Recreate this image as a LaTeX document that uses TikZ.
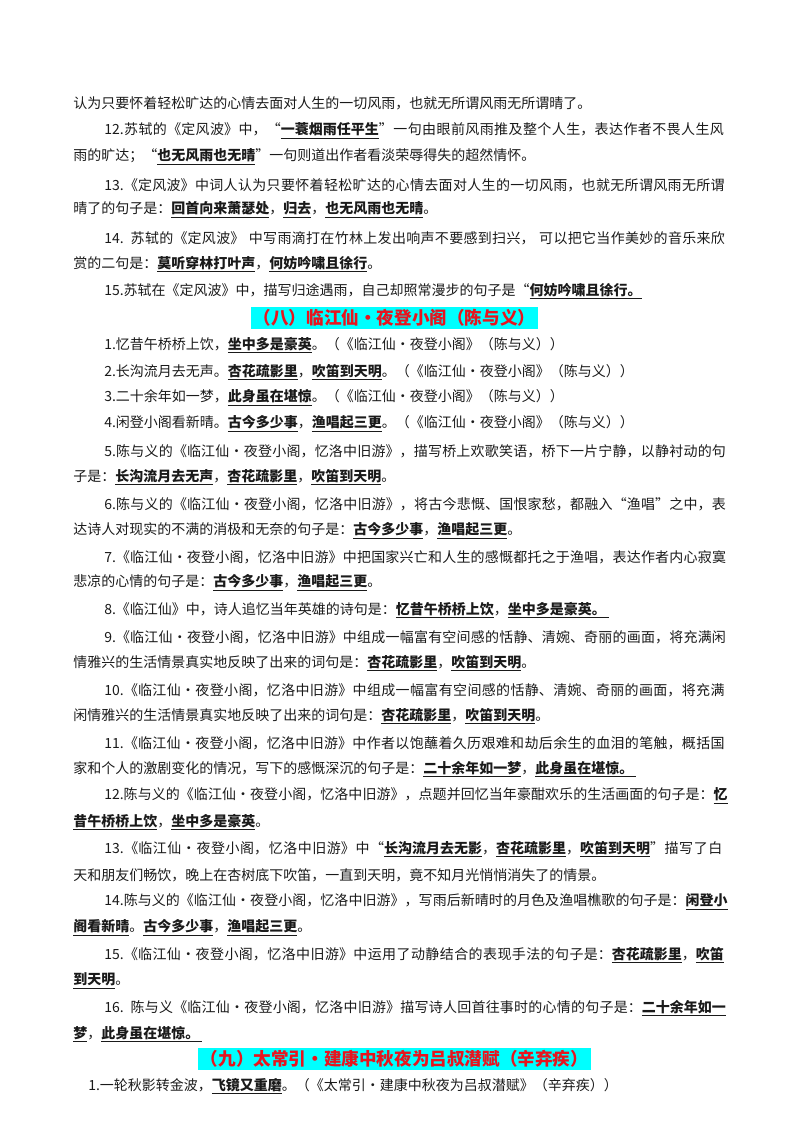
\documentclass[tikz,border=0pt]{standalone}
\usepackage{fontspec}
\setmainfont{Noto Sans CJK SC}
\XeTeXlinebreaklocale "zh"
\XeTeXlinebreakskip=0pt plus 2pt
\newcommand{\ans}[1]{\underline{\textbf{#1}}}
\definecolor{headred}{HTML}{E8141E}
\definecolor{headcyan}{HTML}{00FFFF}
\definecolor{bodyink}{HTML}{1A1A1A}
\tikzset{
  ln/.style={anchor=west, inner sep=0pt, text=bodyink, font=\fontsize{10.5pt}{12pt}\selectfont},
  fl/.style={ln, text width=468pt, execute at begin node={\parfillskip=0pt\relax}},
  headbox/.style={fill=headcyan, inner xsep=2pt, inner ysep=2pt, text=headred, font=\fontsize{13.2pt}{15pt}\selectfont\bfseries}
}
\begin{document}
\begin{tikzpicture}[x=0.75pt, y=-0.75pt]
\useasboundingbox (0,0) rectangle (800,1132);
% 定风波
\node[ln] (a0) at (73,103) {认为只要怀着轻松旷达的心情去面对人生的一切风雨，也就无所谓风雨无所谓晴了。};
\node[fl] (a12a) at (104,131) {12.苏轼的《定风波》中，“\ans{一蓑烟雨任平生}”一句由眼前风雨推及整个人生，表达作者不畏人生风};
\node[ln] (a12b) at (73,157) {雨的旷达；“\ans{也无风雨也无晴}”一句则道出作者看淡荣辱得失的超然情怀。};
\node[fl] (a13a) at (104,185) {13.《定风波》中词人认为只要怀着轻松旷达的心情去面对人生的一切风雨，也就无所谓风雨无所谓};
\node[ln] (a13b) at (73,210) {晴了的句子是：\ans{回首向来萧瑟处}，\ans{归去}，\ans{也无风雨也无晴}。};
\node[fl] (a14a) at (104,238) {14. 苏轼的《定风波》 中写雨滴打在竹林上发出响声不要感到扫兴， 可以把它当作美妙的音乐来欣};
\node[ln] (a14b) at (73,264) {赏的二句是：\ans{莫听穿林打叶声}，\ans{何妨吟啸且徐行}。};
\node[ln] (a15) at (104,291) {15.苏轼在《定风波》中，描写归途遇雨，自己却照常漫步的句子是“\ans{何妨吟啸且徐行。}};
% 临江仙
\node[headbox] (h8) at (394.5,318) {（八）临江仙·夜登小阁（陈与义）};
\node[ln] (b1) at (104,345) {1.忆昔午桥桥上饮，\ans{坐中多是豪英}。（《临江仙·夜登小阁》（陈与义））};
\node[ln] (b2) at (104,372) {2.长沟流月去无声。\ans{杏花疏影里}，\ans{吹笛到天明}。（《临江仙·夜登小阁》（陈与义））};
\node[ln] (b3) at (104,398) {3.二十余年如一梦，\ans{此身虽在堪惊}。（《临江仙·夜登小阁》（陈与义））};
\node[ln] (b4) at (104,424) {4.闲登小阁看新晴。\ans{古今多少事}，\ans{渔唱起三更}。（《临江仙·夜登小阁》（陈与义））};
\node[fl] (b5a) at (104,451) {5.陈与义的《临江仙·夜登小阁，忆洛中旧游》，描写桥上欢歌笑语，桥下一片宁静，以静衬动的句};
\node[ln] (b5b) at (73,477) {子是：\ans{长沟流月去无声}，\ans{杏花疏影里}，\ans{吹笛到天明}。};
\node[fl] (b6a) at (104,504) {6.陈与义的《临江仙·夜登小阁，忆洛中旧游》，将古今悲慨、国恨家愁，都融入“渔唱”之中，表};
\node[ln] (b6b) at (73,531) {达诗人对现实的不满的消极和无奈的句子是：\ans{古今多少事}，\ans{渔唱起三更}。};
\node[fl] (b7a) at (104,557) {7.《临江仙·夜登小阁，忆洛中旧游》中把国家兴亡和人生的感慨都托之于渔唱，表达作者内心寂寞};
\node[ln] (b7b) at (73,583) {悲凉的心情的句子是：\ans{古今多少事}，\ans{渔唱起三更}。};
\node[ln] (b8) at (104,610) {8.《临江仙》中，诗人追忆当年英雄的诗句是：\ans{忆昔午桥桥上饮}，\ans{坐中多是豪英。\ }};
\node[fl] (b9a) at (104,637) {9.《临江仙·夜登小阁，忆洛中旧游》中组成一幅富有空间感的恬静、清婉、奇丽的画面，将充满闲};
\node[ln] (b9b) at (73,663) {情雅兴的生活情景真实地反映了出来的词句是：\ans{杏花疏影里}，\ans{吹笛到天明}。};
\node[fl] (b10a) at (104,690) {10.《临江仙·夜登小阁，忆洛中旧游》中组成一幅富有空间感的恬静、清婉、奇丽的画面，将充满};
\node[ln] (b10b) at (73,716) {闲情雅兴的生活情景真实地反映了出来的词句是：\ans{杏花疏影里}，\ans{吹笛到天明}。};
\node[fl] (b11a) at (104,743) {11.《临江仙·夜登小阁，忆洛中旧游》中作者以饱蘸着久历艰难和劫后余生的血泪的笔触，概括国};
\node[ln] (b11b) at (73,769) {家和个人的激剧变化的情况，写下的感慨深沉的句子是：\ans{二十余年如一梦}，\ans{此身虽在堪惊。\ }};
\node[fl] (b12a) at (104,796) {12.陈与义的《临江仙·夜登小阁，忆洛中旧游》，点题并回忆当年豪酣欢乐的生活画面的句子是：\ans{忆}};
\node[ln] (b12b) at (73,822) {\ans{昔午桥桥上饮}，\ans{坐中多是豪英}。};
\node[fl] (b13a) at (104,849) {13.《临江仙·夜登小阁，忆洛中旧游》中“\ans{长沟流月去无影}，\ans{杏花疏影里}，\ans{吹笛到天明}”描写了白};
\node[ln] (b13b) at (73,875) {天和朋友们畅饮，晚上在杏树底下吹笛，一直到天明，竟不知月光悄悄消失了的情景。};
\node[fl] (b14a) at (104,902) {14.陈与义的《临江仙·夜登小阁，忆洛中旧游》，写雨后新晴时的月色及渔唱樵歌的句子是：\ans{闲登小}};
\node[ln] (b14b) at (73,928) {\ans{阁看新晴}。\ans{古今多少事}，\ans{渔唱起三更}。};
\node[fl] (b15a) at (104,955) {15.《临江仙·夜登小阁，忆洛中旧游》中运用了动静结合的表现手法的句子是：\ans{杏花疏影里}，\ans{吹笛}};
\node[ln] (b15b) at (73,981) {\ans{到天明}。};
\node[fl] (b16a) at (104,1008) {16. 陈与义《临江仙·夜登小阁，忆洛中旧游》描写诗人回首往事时的心情的句子是：\ans{二十余年如一}};
\node[ln] (b16b) at (73,1034) {\ans{梦}，\ans{此身虽在堪惊。\ }};
% 太常引
\node[headbox] (h9) at (394.5,1059) {（九）太常引·建康中秋夜为吕叔潜赋（辛弃疾）};
\node[ln] (c1) at (88,1086) {1.一轮秋影转金波，\ans{飞镜又重磨}。（《太常引·建康中秋夜为吕叔潜赋》（辛弃疾））};
\end{tikzpicture}
\end{document}
